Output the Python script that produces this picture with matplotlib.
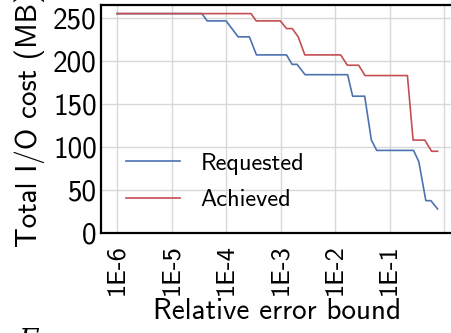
import numpy as np
import matplotlib
matplotlib.use("Agg")
import matplotlib.pyplot as plt

# I/O cost vs. relative error bound
bounds_req = [1e-6, 3.6e-5, 4.5e-5, 1.0e-4, 1.66e-4, 2.67e-4, 3.6e-4, 1.28e-3,
              1.62e-3, 2.0e-3, 2.8e-3, 1.69e-2, 2.09e-2, 3.47e-2, 4.61e-2,
              5.77e-2, 2.73e-1, 3.41e-1, 4.59e-1, 5.68e-1, 7.53e-1]
cost_req = [255, 255, 246.5, 246.5, 228, 228, 207, 207,
            196, 196, 184, 184, 159, 159, 108,
            96, 96, 83, 37.6, 37.6, 28]

bounds_ach = [1e-6, 2.87e-4, 3.55e-4, 9.9e-4, 1.28e-3, 1.63e-3, 2.1e-3, 2.77e-3,
              1.26e-2, 1.67e-2, 2.69e-2, 3.52e-2, 2.11e-1, 2.68e-1, 4.4e-1,
              5.85e-1, 7.53e-1]
cost_ach = [255, 255, 246.5, 246.5, 237.6, 237.6, 228, 207,
            207, 195, 195, 183, 183, 108, 108,
            95, 95]

xticks = [1e-6, 1e-5, 1e-4, 1e-3, 1e-2, 1e-1, 1e0]
xtick_labels = ["1E-6", "1E-5", "1E-4", "1E-3", "1E-2", "1E-1", ""]
yticks = [0, 50, 100, 150, 200, 250]

plt.rcParams["font.family"] = ["cmss10", "DejaVu Sans"]
plt.rcParams["axes.unicode_minus"] = False
plt.rcParams["mathtext.fontset"] = "cm"

fig = plt.figure(figsize=(4.52, 3.33), dpi=100)
ax = fig.add_axes([101 / 452, 1 - 233 / 333, 352 / 452, 228 / 333])

ax.plot(bounds_req, cost_req, color="#4C72B0", lw=1.2, label="Requested")
ax.plot(bounds_ach, cost_ach, color="#C44E52", lw=1.2, label="Achieved")

ax.set_xscale("log")
ax.set_xlim(10 ** -6.294, 10 ** 0.16)
ax.set_ylim(0, 265)
ax.set_xticks(xticks)
ax.set_xticklabels(xtick_labels, rotation=90)
ax.minorticks_off()
ax.set_yticks(yticks)
ax.tick_params(axis="y", length=0, labelsize=21, pad=3)
ax.tick_params(axis="x", length=0, labelsize=19, pad=8)

ax.grid(True, color="#d8d8d8", lw=1.0)
ax.set_axisbelow(True)
for s in ax.spines.values():
    s.set_color("black")
    s.set_linewidth(1.6)

ax.set_xlabel("Relative error bound", fontsize=21, labelpad=2)
ax.set_ylabel("Total I/O cost (MB)", fontsize=21, labelpad=6)

ax.legend(loc="lower left", frameon=False, fontsize=17.5, handlelength=2.2,
          handletextpad=0.85, labelspacing=0.6, bbox_to_anchor=(0.01, 0.0))

# top of the caption line below the figure
fig.text(0.04, 0.015, "F", fontsize=20, family="DejaVu Serif", style="italic",
         va="top")

fig.savefig("out.png", dpi=100)
